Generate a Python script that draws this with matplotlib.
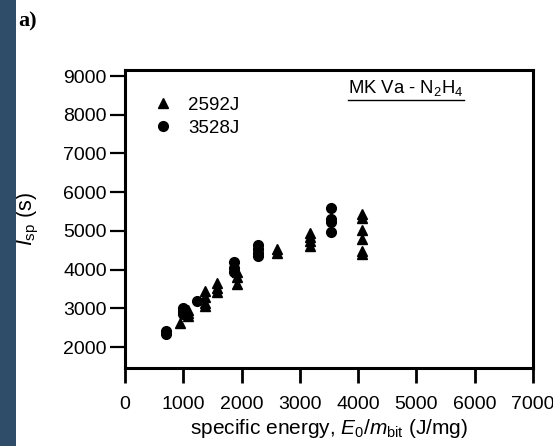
import matplotlib
matplotlib.use("Agg")
import matplotlib.pyplot as plt
from matplotlib.patches import Rectangle
from matplotlib.lines import Line2D

plt.rcParams['font.family'] = ['Liberation Sans', 'DejaVu Sans']
plt.rcParams['mathtext.fontset'] = 'custom'
plt.rcParams['mathtext.rm'] = 'Liberation Sans'
plt.rcParams['mathtext.it'] = 'Liberation Sans:italic'
plt.rcParams['mathtext.bf'] = 'Liberation Sans:bold'

# Data
tri_x = [940, 1080, 1080, 1080, 1370, 1370, 1370, 1370, 1580, 1580, 1580,
         1930, 1930, 1930, 2600, 2600, 3170, 3170, 3170, 3170,
         4060, 4060, 4060, 4060, 4060, 4060]
tri_y = [2620, 2950, 2880, 2800, 3450, 3300, 3150, 3050, 3650, 3520, 3420,
         3950, 3820, 3620, 4530, 4430, 4950, 4850, 4750, 4600,
         5430, 5330, 5030, 4780, 4480, 4400]
circ_x = [710, 710, 990, 990, 990, 1230, 1870, 1870, 1870,
          2290, 2290, 2290, 2290, 3540, 3540, 3540, 3540]
circ_y = [2420, 2330, 3000, 2930, 2850, 3180, 4200, 4050, 3950,
          4640, 4530, 4420, 4340, 5600, 5320, 5220, 4980]

series_labels = ['2592J', '3528J']
title_text = r'MK Va - N$_2$H$_4$'
x_ticks = [0, 1000, 2000, 3000, 4000, 5000, 6000, 7000]
y_ticks = [2000, 3000, 4000, 5000, 6000, 7000, 8000, 9000]

W, H = 553, 446
fig = plt.figure(figsize=(W / 100, H / 100), dpi=100)
fig.patch.set_facecolor('white')
# dark blue strip on the left
fig.patches.append(Rectangle((0, 0), 16 / W, 1, transform=fig.transFigure,
                             facecolor='#2f4c68', edgecolor='none', zorder=0))

ax = fig.add_axes([125 / W, 1 - 368 / H, 408 / W, 298 / H])
ax.plot(tri_x, tri_y, linestyle='none', marker='^', markersize=7.5,
        color='black', label=series_labels[0])
ax.plot(circ_x, circ_y, linestyle='none', marker='o', markersize=7,
        color='black', label=series_labels[1])

ax.set_xlim(0, 7000)
ax.set_ylim(1460, 9155)
ax.set_xticks(x_ticks)
ax.set_yticks(y_ticks)
ax.set_xticklabels([str(v) for v in x_ticks], fontsize=14)
ax.set_yticklabels([str(v) for v in y_ticks], fontsize=14)
for s in ax.spines.values():
    s.set_linewidth(2.2)
ax.tick_params(axis='y', direction='out', length=11, width=1.6, pad=2)
ax.tick_params(axis='x', direction='out', length=11, width=2.0, pad=9)

ax.set_xlabel(r'specific energy, $E_{\mathit{0}}/m_{\rm bit}$ (J/mg)',
              fontsize=15)
ax.xaxis.set_label_coords(0.5, -0.165)
ax.set_ylabel(r'$I_{\rm sp}$ (s)', fontsize=15.5)
ax.yaxis.set_label_coords(-0.238, 0.5)
ax.yaxis.label.set_va('center')

leg = ax.legend(loc='upper left', bbox_to_anchor=(0.07, 0.91), frameon=False,
                fontsize=13.5, handlelength=1.0, handletextpad=0.85,
                labelspacing=0.3, borderpad=0, borderaxespad=0)

t = ax.text(0.689, 0.923, title_text, transform=ax.transAxes, fontsize=13.3,
            ha='center', va='baseline')

fig.text(18 / W, 1 - 21 / H, 'a)', fontsize=16, fontweight='bold',
         family='Liberation Serif', ha='left', va='center')

fig.canvas.draw()
bb = t.get_window_extent(renderer=fig.canvas.get_renderer())
base_y = ax.transAxes.transform((0, 0.923))[1]
line_y = (base_y - 7.5) / H
fig.add_artist(Line2D([bb.x0 / W, bb.x1 / W], [line_y, line_y],
                      transform=fig.transFigure, color='black', linewidth=1.0))

fig.savefig('out.png', dpi=100)
